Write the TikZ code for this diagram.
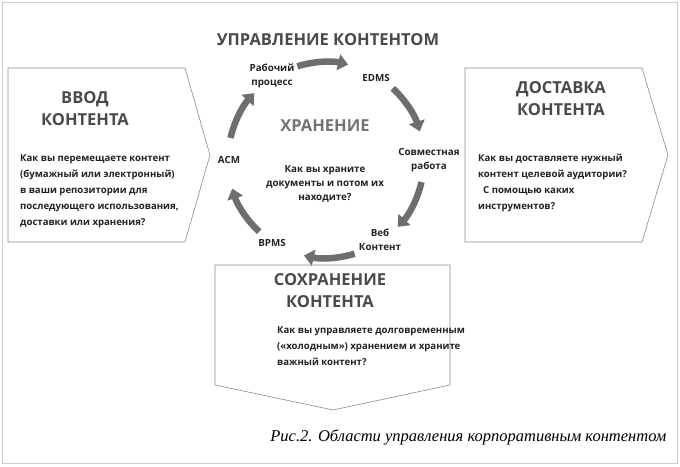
\documentclass[tikz,border=0pt]{standalone}
\usepackage{fontspec}
\setmainfont{Open Sans}
\newfontfamily\capfont{Liberation Serif}
\usetikzlibrary{arrows.meta}
\definecolor{ink}{HTML}{222222}
\definecolor{head}{HTML}{4A4A4A}
\definecolor{band}{HTML}{6E6E6E}
\begin{document}
\begin{tikzpicture}[x=1pt,y=-1pt,
  frame/.style={draw=black!45,line width=0.6pt,fill=white},
  title/.style={font=\bfseries\fontsize{16.5}{22}\selectfont,text=head,align=center},
  ask/.style={font=\bfseries\fontsize{9.6}{16}\selectfont,text=ink,align=left,anchor=north west,inner sep=0},
  stage/.style={font=\bfseries\fontsize{9.8}{14}\selectfont,text=ink,align=center},
  cycle/.style={draw=band,line width=6.5pt,-{Triangle[width=16pt,length=10pt]}}]
\useasboundingbox (0,0) rectangle (680,466);
\draw[black!20] (2,2) rectangle (677,463);
% three blocks
\draw[frame] (8,68) -- (185,68) -- (210,155) -- (185,242) -- (8,242) -- cycle;
\draw[frame] (465,68) -- (642,68) -- (668,155) -- (642,242) -- (465,242) -- cycle;
\draw[frame] (215,265) -- (450,265) -- (450,385) -- (333,410) -- (215,385) -- cycle;
\node[title] (vvod) at (85,109) {ВВОД\\КОНТЕНТА};
\node[ask] (vvodq) at (20,154) {Как вы перемещаете контент\\(бумажный или электронный)\\в ваши репозитории для\\последующего использования,\\доставки или хранения?};
\node[title] (dost) at (561,99) {ДОСТАВКА\\КОНТЕНТА};
\node[ask] (dostq) at (478,154) {Как вы доставляете нужный\\контент целевой аудитории?\\\ \ С помощью каких\\инструментов?};
\node[title] (sohr) at (330,291) {СОХРАНЕНИЕ\\КОНТЕНТА};
\node[ask] (sohrq) at (277,326) {Как вы управляете долговременным\\(«холодным») хранением и храните\\важный контент?};
% cycle
\node[title] (upr) at (328,40) {УПРАВЛЕНИЕ КОНТЕНТОМ};
\coordinate (c) at (326,160);
\node[title,text=black!55] (hran) at (325,126) {ХРАНЕНИЕ};
\node[stage] (hranq) at (325,184) {Как вы храните\\документы и потом их\\находите?};
\node[stage] (wf) at (272,76) {Рабочий\\процесс};
\node[stage] (edms) at (376,78) {EDMS};
\node[stage] (collab) at (429,160) {Совместная\\работа};
\node[stage] (web) at (380,240) {Веб\\Контент};
\node[stage] (bpms) at (272,243) {BPMS};
\node[stage] (acm) at (229,160) {ACM};
\foreach \a in {90,30,-30,-90,-150,150}
  \draw[cycle] (c) ++(\a-17:98) arc[start angle=\a-17,end angle=\a+13,radius=98];
% caption
\node[font=\capfont\itshape\fontsize{16.5}{19}\selectfont,anchor=east] (cap) at (670,437) {Рис.2. Области управления корпоративным контентом};
\end{tikzpicture}
\end{document}
